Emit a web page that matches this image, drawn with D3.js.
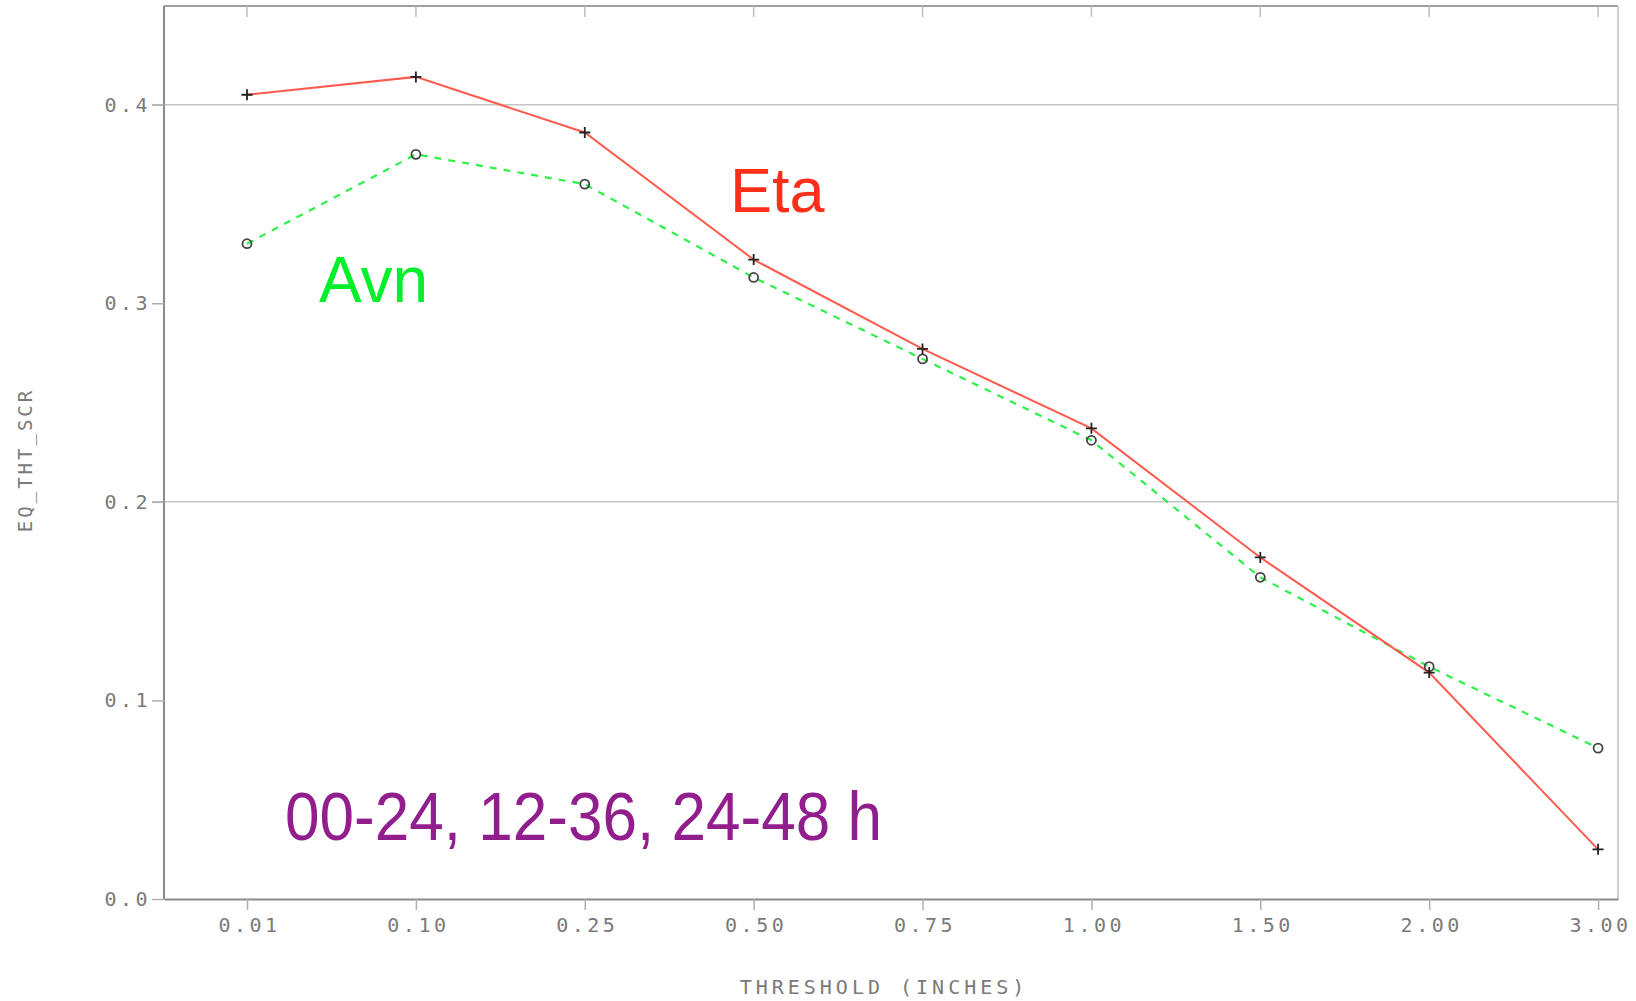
<!DOCTYPE html>
<html>
<head>
<meta charset="utf-8">
<script src="https://cdn.jsdelivr.net/npm/d3@7"></script>
<style>
  body { margin: 0; background: #fff; }
  svg { display: block; }
  .tick-label { font-family: "DejaVu Sans Mono", monospace; font-size: 20px; fill: #7a7a7a; letter-spacing: 3.5px; }
</style>
</head>
<body>
<svg width="1636" height="1001"></svg>
<script>
/// Data
var thresholds = ["0.01", "0.10", "0.25", "0.50", "0.75", "1.00", "1.50", "2.00", "3.00"];
var etaValues = [0.405, 0.414, 0.386, 0.322, 0.277, 0.237, 0.172, 0.114, 0.025];
var avnValues = [0.330, 0.375, 0.360, 0.313, 0.272, 0.231, 0.162, 0.117, 0.076];
var yTicks = [0.0, 0.1, 0.2, 0.3, 0.4];
var yGrid = [0.2, 0.4];

/// Frame
// NOTE: "top" is a read-only window property, so use prefixed names
var plotLeft = 164, plotRight = 1618, plotTop = 6, plotBottom = 899;
var svg = d3.select("svg");

// categories sit on index positions; first one is pushed in from the left edge
var x = d3.scaleLinear().domain([-0.4915, 8.118]).range([plotLeft, plotRight]);
var y = d3.scaleLinear().domain([0, 0.4497]).range([plotBottom, plotTop]);

/// Grid lines (only at 0.2 and 0.4)
svg.selectAll("line.grid")
    .data(yGrid)
  .enter().append("line")
    .attr("class", "grid")
    .attr("x1", plotLeft - 12)
    .attr("x2", plotRight)
    .attr("y1", function(d) { return y(d); })
    .attr("y2", function(d) { return y(d); })
    .style("stroke", "#c4c4c4")
    .style("stroke-width", 1.5);

/// Top + right border
svg.append("line")
    .attr("x1", plotLeft).attr("x2", plotRight)
    .attr("y1", plotTop).attr("y2", plotTop)
    .style("stroke", "#a0a0a0").style("stroke-width", 2);
svg.append("line")
    .attr("x1", plotRight).attr("x2", plotRight)
    .attr("y1", plotTop).attr("y2", plotBottom)
    .style("stroke", "#cfcfcf").style("stroke-width", 2);

// small inward ticks along the top
svg.selectAll("line.top-tick")
    .data(thresholds)
  .enter().append("line")
    .attr("class", "top-tick")
    .attr("x1", function(d, i) { return x(i); })
    .attr("x2", function(d, i) { return x(i); })
    .attr("y1", plotTop)
    .attr("y2", plotTop + 11)
    .style("stroke", "#bdbdbd")
    .style("stroke-width", 1.5);

/// X axis
var xAxis = svg.append("g")
    .attr("transform", "translate(0," + plotBottom + ")")
    .call(d3.axisBottom(x)
      .tickValues(d3.range(thresholds.length))
      .tickFormat(function(i) { return thresholds[i]; })
      .tickSize(11)
      .tickSizeOuter(0)
      .tickPadding(8));
xAxis.select(".domain").style("stroke", "#8a8a8a").style("stroke-width", 2);
xAxis.selectAll(".tick line").style("stroke", "#b0b0b0").style("stroke-width", 1.5);
xAxis.selectAll(".tick text").attr("class", "tick-label").attr("dx", 2);

/// Y axis
var yAxis = svg.append("g")
    .attr("transform", "translate(" + plotLeft + ",0)")
    .call(d3.axisLeft(y)
      .tickValues(yTicks)
      .tickFormat(d3.format(".1f"))
      .tickSize(12)
      .tickSizeOuter(0)
      .tickPadding(1));
yAxis.select(".domain").style("stroke", "#8a8a8a").style("stroke-width", 2)
    .attr("d", "M0," + plotTop + "V" + plotBottom);
yAxis.selectAll(".tick line").style("stroke", "#b0b0b0").style("stroke-width", 1.5);
yAxis.selectAll(".tick text").attr("class", "tick-label");

/// Axis titles
svg.append("text")
    .attr("class", "tick-label")
    .attr("x", 884)
    .attr("y", 994)
    .attr("text-anchor", "middle")
    .style("font-size", "20px")
    .style("letter-spacing", "4px")
    .text("THRESHOLD (INCHES)");

svg.append("text")
    .attr("class", "tick-label")
    .attr("transform", "translate(32,460) rotate(-90)")
    .attr("text-anchor", "middle")
    .style("font-size", "19px")
    .style("letter-spacing", "3px")
    .text("EQ_THT_SCR");

/// Lines
var line = d3.line()
    .x(function(d, i) { return x(i); })
    .y(function(d) { return y(d); });

svg.append("path")
    .datum(avnValues)
    .attr("d", line)
    .style("fill", "none")
    .style("stroke", "#2ef04a")
    .style("stroke-width", 2.2)
    .style("stroke-dasharray", "7,7");

svg.append("path")
    .datum(etaValues)
    .attr("d", line)
    .style("fill", "none")
    .style("stroke", "#ff5a4e")
    .style("stroke-width", 2);

/// Markers: "o" for Avn, "+" for Eta
svg.selectAll("circle.avn")
    .data(avnValues)
  .enter().append("circle")
    .attr("class", "avn")
    .attr("cx", function(d, i) { return x(i); })
    .attr("cy", function(d) { return y(d); })
    .attr("r", 4.5)
    .style("fill", "none")
    .style("stroke", "#444")
    .style("stroke-width", 1.8);

svg.selectAll("path.eta")
    .data(etaValues)
  .enter().append("path")
    .attr("class", "eta")
    .attr("d", function(d, i) {
      var cx = x(i), cy = y(d);
      return "M" + (cx - 5.5) + "," + cy + "H" + (cx + 5.5) + "M" + cx + "," + (cy - 5.5) + "V" + (cy + 5.5);
    })
    .style("stroke", "#222")
    .style("stroke-width", 1.8);

/// Labels
svg.append("text")
    .attr("x", 730)
    .attr("y", 212)
    .style("font-family", "Liberation Sans, Arial, sans-serif")
    .style("font-size", "63px")
    .style("fill", "#ff2e1a")
    .text("Eta");

svg.append("text")
    .attr("x", 319)
    .attr("y", 302)
    .style("font-family", "Liberation Sans, Arial, sans-serif")
    .style("font-size", "64px")
    .style("fill", "#00f02a")
    .text("Avn");

svg.append("text")
    .attr("x", 285)
    .attr("y", 840)
    .attr("textLength", 597)
    .attr("lengthAdjust", "spacingAndGlyphs")
    .style("font-family", "Liberation Sans, Arial, sans-serif")
    .style("font-size", "68px")
    .style("fill", "#921e8e")
    .text("00-24, 12-36, 24-48 h");
</script>
</body>
</html>
